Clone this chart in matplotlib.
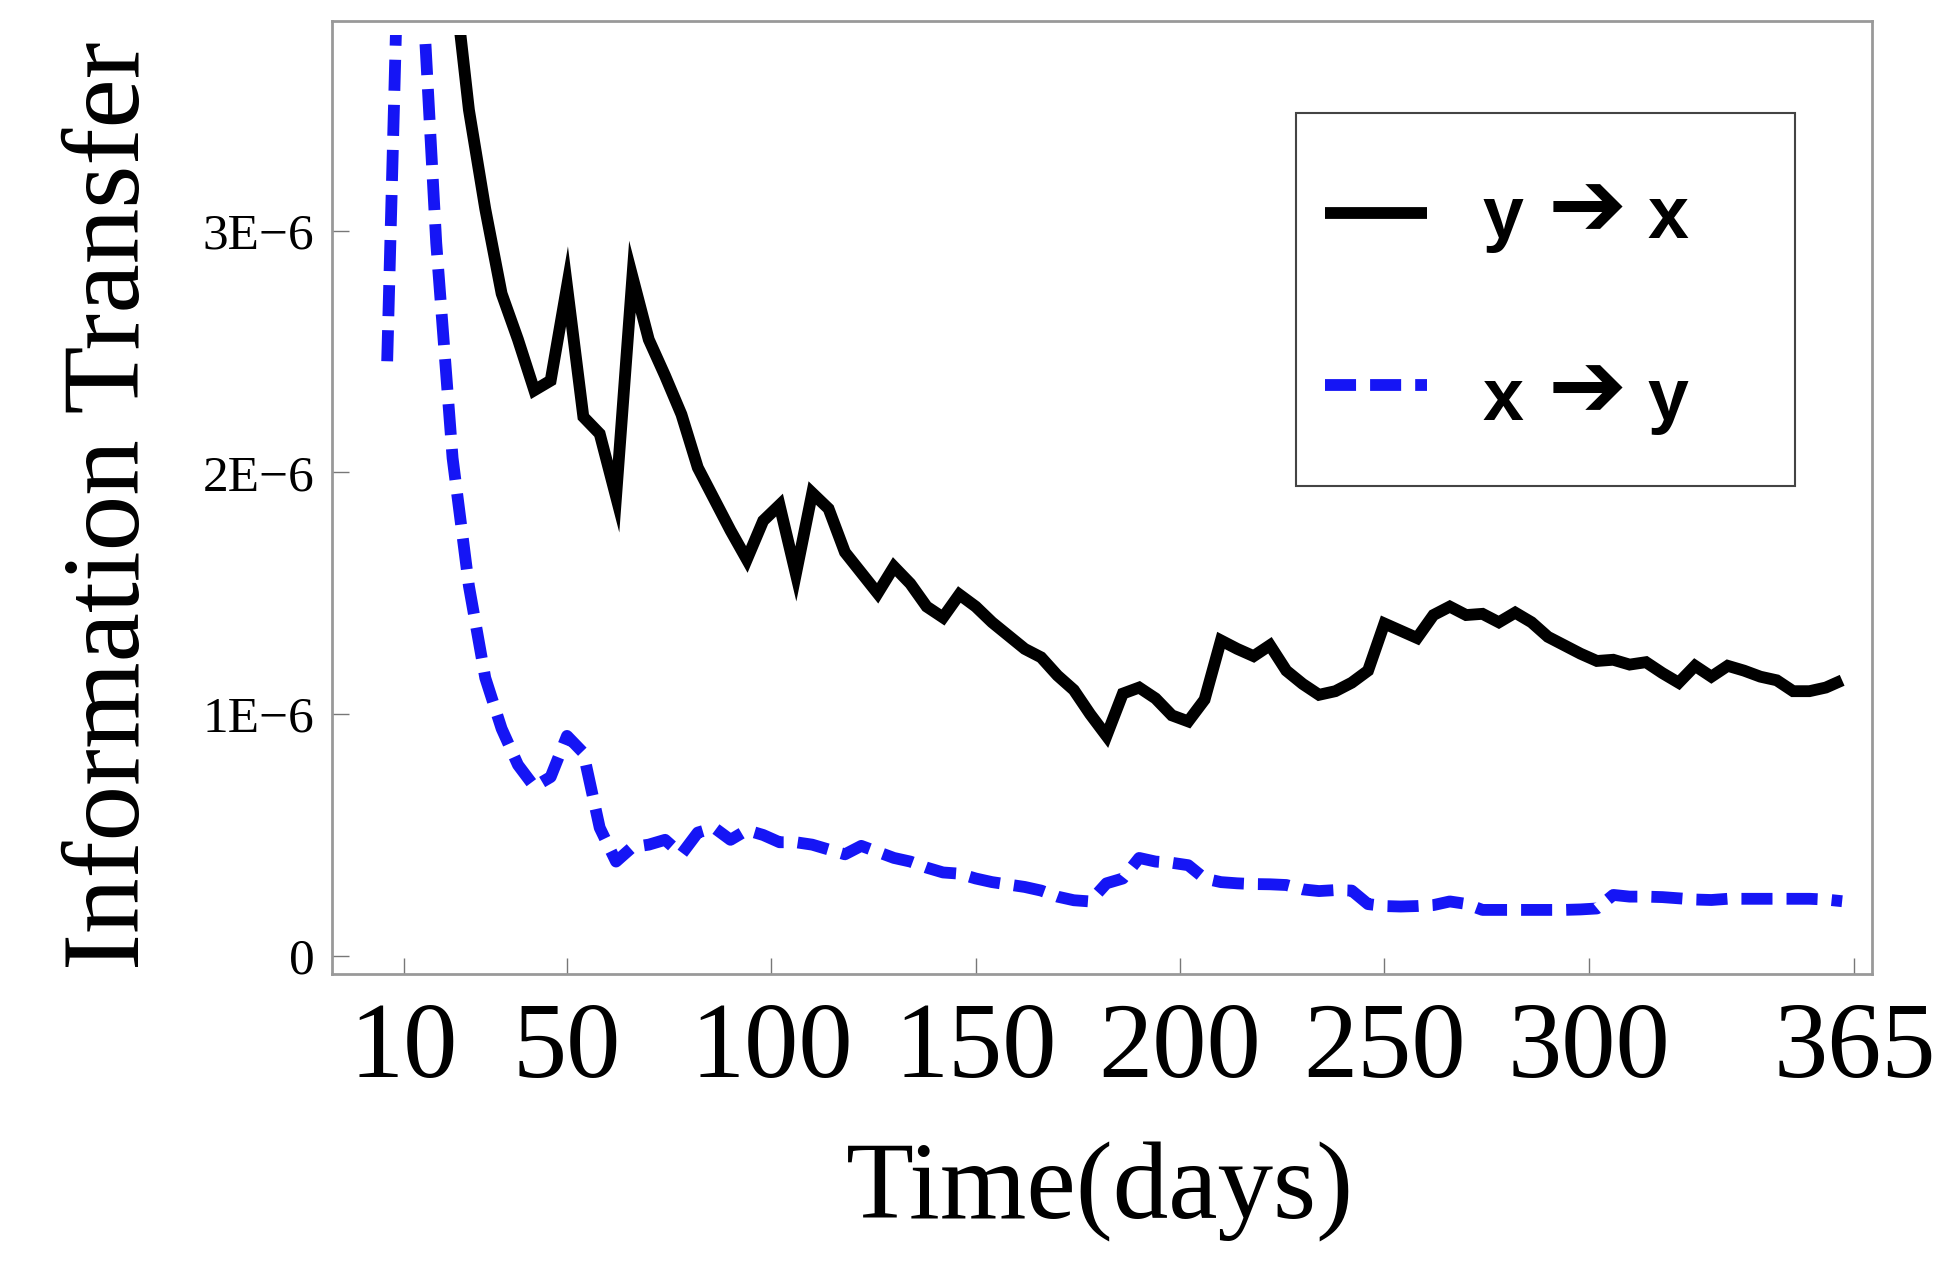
import matplotlib
matplotlib.use('Agg')
import matplotlib.pyplot as plt
import numpy as np
from matplotlib.patches import Rectangle

plt.rcParams['font.family'] = ['Liberation Serif', 'DejaVu Serif']

# data, in units of 1E-6
days = np.arange(6, 366, 4)
y_to_x = [4.8, 5.2, 5.0, 4.6, 4.1, 3.50, 3.09, 2.74, 2.55, 2.34,
          2.38, 2.77, 2.23, 2.16, 1.90, 2.81, 2.55, 2.40, 2.24, 2.02,
          1.89, 1.76, 1.64, 1.80, 1.865, 1.58, 1.915, 1.85, 1.67, 1.585,
          1.50, 1.61, 1.54, 1.445, 1.40, 1.495, 1.445, 1.38, 1.325, 1.27,
          1.235, 1.16, 1.10, 1.00, 0.91, 1.085, 1.11, 1.065, 0.995, 0.97,
          1.06, 1.305, 1.27, 1.24, 1.285, 1.18, 1.125, 1.08, 1.095, 1.13,
          1.18, 1.375, 1.345, 1.315, 1.41, 1.445, 1.41, 1.415, 1.38, 1.42,
          1.38, 1.32, 1.285, 1.25, 1.22, 1.225, 1.205, 1.215, 1.17, 1.13,
          1.20, 1.155, 1.20, 1.18, 1.155, 1.14, 1.095, 1.095, 1.11, 1.14]
x_to_y = [2.46, 5.0, 4.2, 2.95, 2.06, 1.53, 1.15, 0.94, 0.79, 0.70,
          0.74, 0.91, 0.84, 0.53, 0.39, 0.45, 0.46, 0.48, 0.42, 0.51,
          0.53, 0.48, 0.52, 0.50, 0.47, 0.47, 0.46, 0.44, 0.42, 0.455,
          0.43, 0.405, 0.39, 0.365, 0.345, 0.34, 0.32, 0.305, 0.295, 0.285,
          0.27, 0.245, 0.23, 0.225, 0.30, 0.32, 0.405, 0.39, 0.385, 0.375,
          0.32, 0.305, 0.30, 0.297, 0.296, 0.293, 0.275, 0.268, 0.272, 0.27,
          0.214, 0.206, 0.204, 0.206, 0.21, 0.225, 0.215, 0.19, 0.19, 0.19,
          0.19, 0.19, 0.19, 0.192, 0.196, 0.252, 0.245, 0.245, 0.243, 0.238,
          0.233, 0.231, 0.236, 0.236, 0.236, 0.236, 0.236, 0.236, 0.233, 0.226]
series_names = [('y', 'x'), ('x', 'y')]
arrow = '\u2794'
xticks = [10, 50, 100, 150, 200, 250, 300, 365]
yticks = [0, 1, 2, 3]
yticklabels = ['0', '1E\u22126', '2E\u22126', '3E\u22126']

fig = plt.figure(figsize=(19.6, 12.78), dpi=100)
ax = fig.add_axes([0.1696, 0.2379, 0.7857, 0.7457])
ax.set_xlim(-7.4, 369.4)
ax.set_ylim(-0.075, 3.868)

black_style = dict(color='black', lw=8.5, solid_joinstyle='miter', solid_capstyle='butt')
blue_style = dict(color='#1515F5', lw=8.5, dashes=(2.63, 1.19))

l1, = ax.plot(days, y_to_x, **black_style)
l2, = ax.plot(days, x_to_y, **blue_style)

# plot range is a bit smaller than the frame
for ln in (l1, l2):
    ln.set_clip_path(Rectangle((-50, -1), 500, 4.81, transform=ax.transData))

ax.set_xticks(xticks)
ax.set_yticks(yticks)
ax.set_yticklabels(yticklabels)
ax.tick_params(axis='x', direction='in', length=11.5, width=1, color='#777777', pad=20, labelsize=78)
ax.tick_params(axis='y', direction='in', length=12, width=1, color='#777777', pad=13, labelsize=37)
for s in ax.spines.values():
    s.set_color('#999999')
    s.set_linewidth(2)

# legend box, drawn by hand so the arrow can be bigger than the letters
ax.add_patch(Rectangle((0.626, 0.512), 0.3235, 0.3918, transform=ax.transAxes,
                       facecolor='white', edgecolor='#444444', lw=1.5, zorder=4))
sans = ['Liberation Sans', 'DejaVu Sans']
rows = [(0.7982, 0.7723, 0.8017, black_style), (0.6181, 0.5813, 0.6112, blue_style)]
for (a, b), (yl, yb, ya, st) in zip(series_names, rows):
    ax.plot([0.6443, 0.7110], [yl, yl], transform=ax.transAxes, zorder=5, **st)
    ax.text(0.7471, yb, a, transform=ax.transAxes, family=sans, weight='bold',
            fontsize=53, ha='left', va='baseline', zorder=6)
    ax.text(0.8149, ya, arrow, transform=ax.transAxes, family=['DejaVu Sans'],
            weight='bold', fontsize=68, ha='center', va='center', zorder=6)
    ax.text(0.8542, yb, b, transform=ax.transAxes, family=sans, weight='bold',
            fontsize=53, ha='left', va='baseline', zorder=6)

fig.text(139.3 / 1960, 1 - 970 / 1278, 'Information Transfer', rotation=90,
         rotation_mode='anchor', ha='left', va='baseline', fontsize=80)
fig.text(1100 / 1960, 1 - 1219 / 1278, 'Time(days)', ha='center', va='baseline', fontsize=80)

fig.savefig('out.png', dpi=100, facecolor='white')
